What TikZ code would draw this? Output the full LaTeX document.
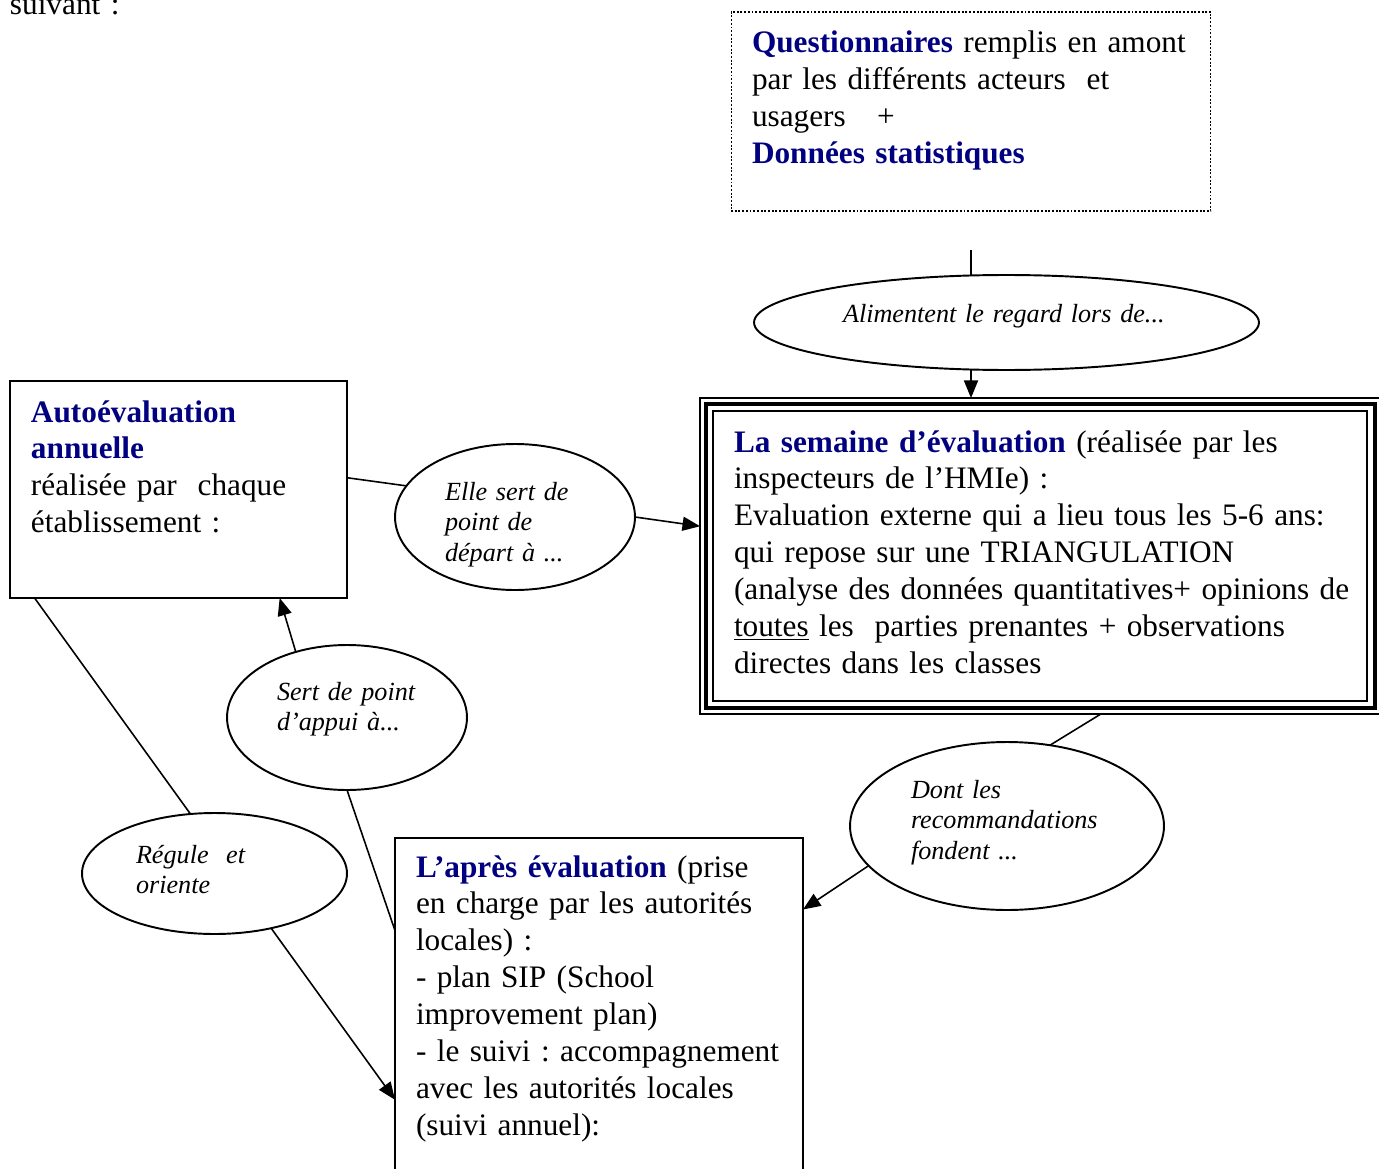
\documentclass[tikz,border=0pt]{standalone}
\usepackage{fontspec}
\setmainfont{Liberation Serif}
\usetikzlibrary{shapes.geometric,arrows.meta}
\definecolor{hmiblue}{RGB}{0,0,128}
\frenchspacing
\newcommand{\bodysize}{\fontsize{17.8}{21.05}\selectfont}
\newcommand{\ovalsize}{\fontsize{14.9}{17.4}\selectfont\itshape}
\newcommand{\hl}[1]{\textbf{\color{hmiblue}#1}}

\begin{document}
\begin{tikzpicture}[x=0.02cm, y=-0.02cm,
    box/.style={draw, line width=1.1pt, outer sep=0, inner sep=0},
    oval/.style={draw, ellipse, line width=1.1pt, outer sep=0, inner sep=0},
    txt/.style={anchor=base west, inner sep=0, outer sep=0, text width=14cm, align=left, font=\bodysize},
    ovaltxt/.style={txt, font=\ovalsize},
    link/.style={line width=0.9pt},
    arr/.style={link, -{Triangle[length=10pt, width=8pt]}}]
  \useasboundingbox (0,0) rectangle (1379,1169);

  \node [txt] (intro) at (10,15) {suivant :};

  \node [box, densely dotted, line width=0.6pt, minimum width=9.6cm, minimum height=3.98cm] (quest) at (971,111.5) {};
  \node [txt] (questtxt) at (752,53) {\hl{Questionnaires} remplis en amont\\par les différents acteurs~ et\\usagers~~ +\\\hl{Données statistiques}};

  \node [oval, minimum width=10.1cm, minimum height=1.9cm] (alim) at (1006.5,322.5) {};
  \node [ovaltxt] (alimtxt) at (843,322) {Alimentent le regard lors de...};

  \node [box, minimum width=13.61cm, minimum height=6.32cm] (semaine) at (1040.25,556) {};
  \draw [line width=2.3pt] ([shift={(5.5,5.5)}]semaine.north west) rectangle ([shift={(-5.5,-5.5)}]semaine.south east);
  \draw [line width=1.1pt] ([shift={(13,13)}]semaine.north west) rectangle ([shift={(-13,-13)}]semaine.south east);
  \node [txt] (semainetxt) at (734,452) {\hl{La semaine d’évaluation} (réalisée par les\\inspecteurs de l’HMIe) :\\Evaluation externe qui a lieu tous les 5-6 ans:\\qui repose sur une TRIANGULATION\\(analyse des données quantitatives+ opinions de\\\underline{toutes} les~ parties prenantes + observations\\directes dans les classes};

  \node [box, minimum width=6.74cm, minimum height=4.34cm] (auto) at (178.5,489.5) {};
  \node [txt] (autotxt) at (31,422) {\hl{Autoévaluation}\\\hl{annuelle}\\réalisée par~ chaque\\établissement :};

  \node [oval, minimum width=4.8cm, minimum height=2.92cm] (elle) at (515,517) {};
  \node [ovaltxt] (elletxt) at (445,500) {Elle sert de\\point de\\départ à ...};

  \node [oval, minimum width=4.8cm, minimum height=2.9cm] (appui) at (347,717.5) {};
  \node [ovaltxt] (appuitxt) at (277,700) {Sert de point\\d’appui à...};

  \node [oval, minimum width=5.3cm, minimum height=2.42cm] (regule) at (214.5,873.5) {};
  \node [ovaltxt] (reguletxt) at (136,863) {Régule~ et\\oriente};

  \node [oval, minimum width=6.28cm, minimum height=3.36cm] (dont) at (1007,826) {};
  \node [ovaltxt] (donttxt) at (911,798) {Dont les\\recommandations\\fondent ...};

  \node [box, minimum width=8.16cm, minimum height=6.84cm] (apres) at (599,1009) {};
  \node [txt] (aprestxt) at (416,877) {\hl{L’après évaluation} (prise\\en charge par les autorités\\locales) :\\- plan SIP (School\\improvement plan)\\- le suivi : accompagnement\\avec les autorités locales\\(suivi annuel):};

  \coordinate (qstart) at (971,250);
  \draw [link] (qstart) -- (qstart |- alim.north);
  \draw [arr] (alim.south -| qstart) -- (qstart |- semaine.north);
  \draw [link] (auto.4) -- (elle.164);
  \draw [arr] (elle.east) -- (semaine.175);
  \draw [arr] (appui.128) -- (auto.-47);
  \draw [link] (appui.south) -- (apres.159);
  \draw [link] (auto.217) -- (regule.112);
  \draw [arr] (regule.-44) -- (apres.204);
  \draw [link] (semaine.-69) -- (dont.62);
  \draw [arr] (dont.196) -- (apres.26);
\end{tikzpicture}
\end{document}
